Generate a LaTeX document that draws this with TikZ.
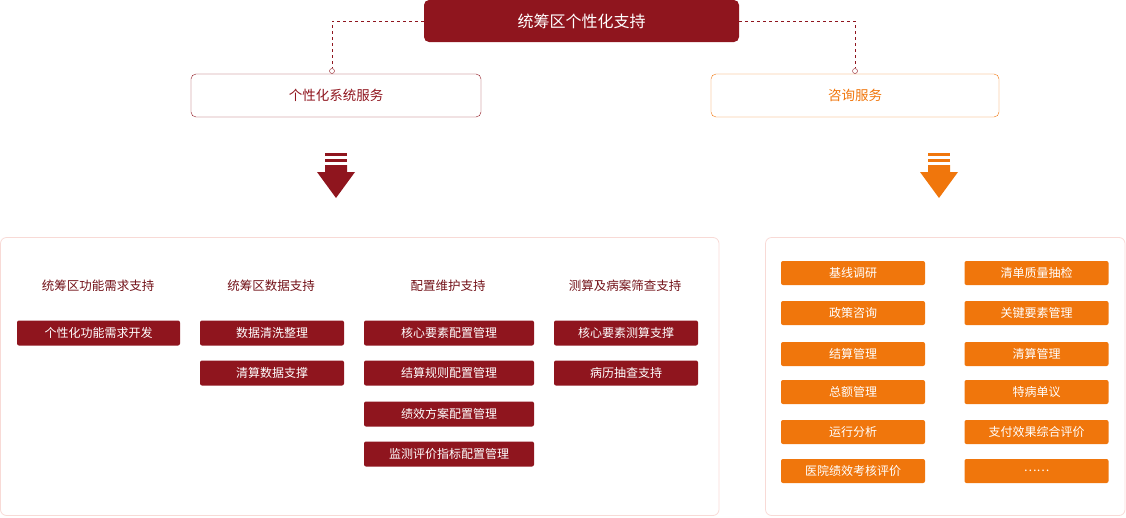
\documentclass[tikz,border=0pt]{standalone}
\usepackage{fontspec}
\setmainfont{Noto Sans CJK SC}
\usetikzlibrary{positioning}
\definecolor{deepred}{RGB}{143,21,30}
\definecolor{brorange}{RGB}{240,118,12}
\definecolor{panelline}{RGB}{248,218,214}
\begin{document}
\begin{tikzpicture}[x=1pt,y=-1pt,
    redbox/.style = {draw=none, fill=deepred, text=white, rounded corners=2pt, minimum height=25pt, font=\fontsize{12}{14}\selectfont, inner sep=0pt},
    orbox/.style = {draw=none, fill=brorange, text=white, rounded corners=2pt, minimum width=144pt, minimum height=24pt, font=\fontsize{12}{14}\selectfont, inner sep=0pt},
    colhead/.style = {text=deepred!80!black, font=\fontsize{12.5}{14}\selectfont},
    panel/.style = {draw=panelline, rounded corners=6pt, line width=0.8pt},
    link/.style = {draw=deepred, dashed, line width=0.7pt},
    dot/.style = {circle, draw=deepred, fill=white, inner sep=0pt, minimum size=5pt}]
\useasboundingbox (0,0) rectangle (1126,517);
% top
\node[fill=deepred, text=white, rounded corners=5pt, minimum width=315pt, minimum height=42pt,
  font=\fontsize{16}{18}\selectfont] (T) at (581.5,21) {统筹区个性化支持};
\node[draw=deepred, rounded corners=5pt, minimum width=290pt, minimum height=43pt, text=deepred,
  font=\fontsize{13.5}{16}\selectfont] (L) at (336,95.5) {个性化系统服务};
\node[draw=brorange, rounded corners=5pt, minimum width=288pt, minimum height=43pt, text=brorange,
  font=\fontsize{13.5}{16}\selectfont] (R) at (855,95.5) {咨询服务};
\node[dot] (dl) at (332,71) {};
\node[dot, draw=deepred] (dr) at (855,71) {};
\draw[link] (T.west) -| (dl);
\draw[link] (T.east) -| (dr);
% arrows
\foreach \cx/\col in {336/deepred, 939/brorange}{
  \fill[\col] (\cx-11,153) rectangle (\cx+11,156);
  \fill[\col] (\cx-11,159) rectangle (\cx+11,162);
  \fill[\col] (\cx-11,165) -- (\cx+11,165) -- (\cx+11,172) -- (\cx+19,172)
     -- (\cx,198) -- (\cx-19,172) -- (\cx-11,172) -- cycle;
}
% panels
\draw[panel] (0.5,237.5) rectangle (719,515.5);
\draw[panel] (765.5,237.5) rectangle (1125,515.5);
% left columns
\node[colhead] (h1) at (98,286) {统筹区功能需求支持};
\node[colhead] (h2) at (271,286) {统筹区数据支持};
\node[colhead] (h3) at (448,286) {配置维护支持};
\node[colhead] (h4) at (625,286) {测算及病案筛查支持};
\node[redbox, minimum width=163pt] (a1) at (98.5,333) {个性化功能需求开发};
\node[redbox, minimum width=144pt] (b1) at (272,333) {数据清洗整理};
\node[redbox, minimum width=144pt] (b2) at (272,373) {清算数据支撑};
\node[redbox, minimum width=170pt] (c1) at (449,333) {核心要素配置管理};
\node[redbox, minimum width=170pt] (c2) at (449,373) {结算规则配置管理};
\node[redbox, minimum width=170pt] (c3) at (449,414) {绩效方案配置管理};
\node[redbox, minimum width=170pt] (c4) at (449,454) {监测评价指标配置管理};
\node[redbox, minimum width=144pt] (d1) at (626,333) {核心要素测算支撑};
\node[redbox, minimum width=144pt] (d2) at (626,373) {病历抽查支持};
% right items
\foreach \t/\u/\y [count=\i] in {基线调研/清单质量抽检/273, 政策咨询/关键要素管理/313,
    结算管理/清算管理/354, 总额管理/特病单议/392, 运行分析/支付效果综合评价/432,
    医院绩效考核评价/……/471}{
  \node[orbox] (p\i) at (853,\y) {\t};
  \node[orbox] (q\i) at (1036.5,\y) {\u};
}
\end{tikzpicture}
\end{document}
